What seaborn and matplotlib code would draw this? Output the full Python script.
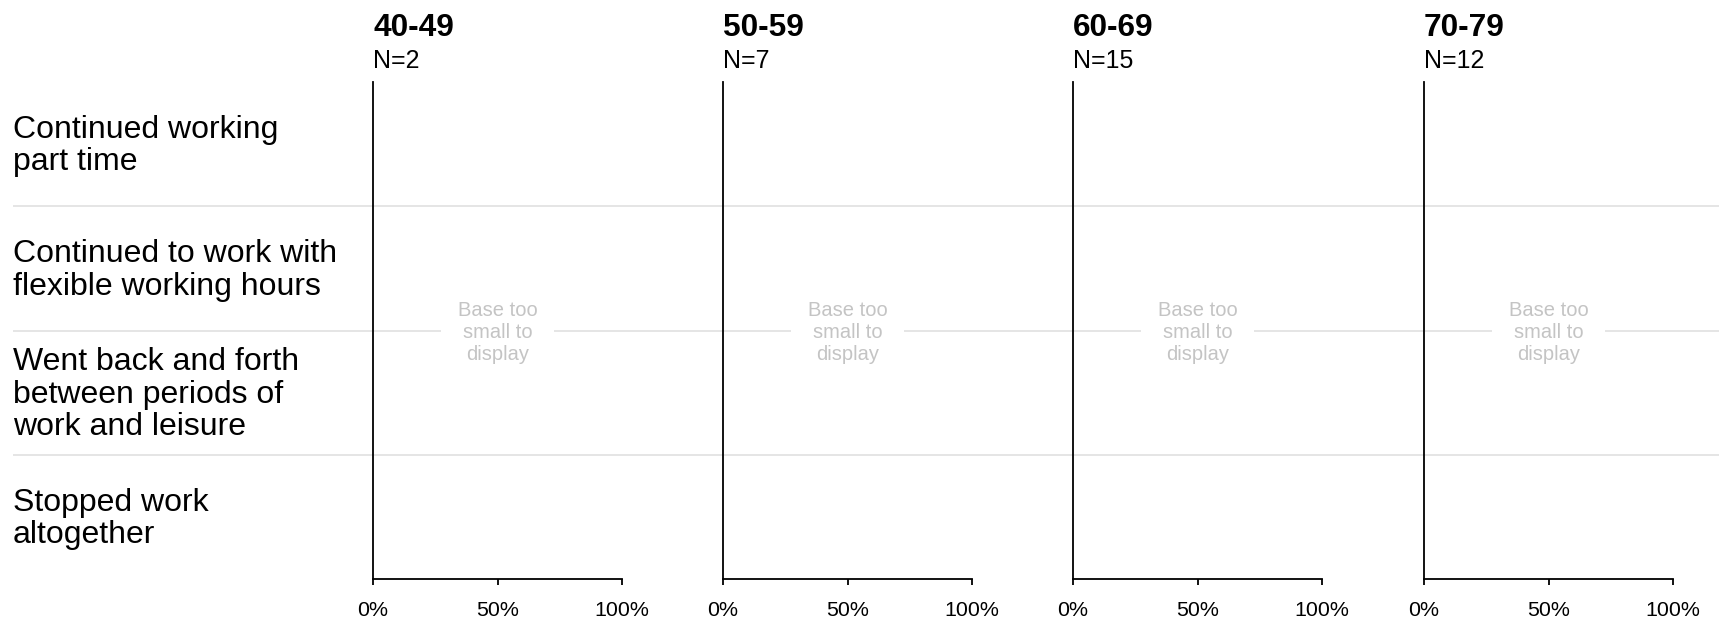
import numpy as np
import pandas as pd
import matplotlib
matplotlib.use("Agg")
import matplotlib.pyplot as plt
import seaborn as sns

# Data
statements = [
    "Continued working\npart time",
    "Continued to work with\nflexible working hours",
    "Went back and forth\nbetween periods of\nwork and leisure",
    "Stopped work\naltogether",
]
age_groups = ["40-49", "50-59", "60-69", "70-79"]
n_bases = [2, 7, 15, 12]
min_base = 30  # panels with a smaller base get no bars
tick_vals = [0, 0.5, 1.0]
tick_labels = ["0%", "50%", "100%"]

sns.set_theme(style="ticks")
plt.rcParams["font.family"] = ["Liberation Sans", "DejaVu Sans"]
plt.rcParams["text.color"] = "black"

W, H = 1719, 622
fig = plt.figure(figsize=(W / 100, H / 100), dpi=100)

# layout in pixels
axis_top, axis_bottom = 82, 579
panel_lefts = [373, 723, 1073, 1424]
panel_w = 249
bottom = 1 - axis_bottom / H
height = (axis_bottom - axis_top) / H

# background with row labels and separators spanning whole width
bg = fig.add_axes([13 / W, bottom, 1 - 13 / W, height])
bg.set_xlim(0, 1)
bg.set_ylim(len(statements) - 0.5, -0.5)
bg.axis("off")
for k in range(1, len(statements)):
    bg.axhline(k - 0.5, color="#e0e0e0", lw=1.2, zorder=0)
for i, s in enumerate(statements):
    bg.annotate(s, xy=(0, i), xytext=(0, -1.5), textcoords="offset points",
                ha="left", va="center", fontsize=23, color="black",
                linespacing=1.1)

for left, grp, n in zip(panel_lefts, age_groups, n_bases):
    ax = fig.add_axes([left / W, bottom, panel_w / W, height])
    ax.set_facecolor("none")
    ax.set_xlim(0, 1)
    ax.set_ylim(len(statements) - 0.5, -0.5)
    ax.set_yticks([])
    ax.set_xticks(tick_vals)
    ax.set_xticklabels(tick_labels)
    ax.tick_params(axis="x", length=4.3, width=1.3, pad=11.5, labelsize=15.4,
                   colors="black")
    sns.despine(ax=ax)
    for sp in ("left", "bottom"):
        ax.spines[sp].set_linewidth(1.3)
        ax.spines[sp].set_color("black")

    if n < min_base:
        ax.annotate("Base too\nsmall to\ndisplay",
                    xy=(0.5, (len(statements) - 1) / 2), xytext=(0, -1.5),
                    textcoords="offset points", ha="center", va="center",
                    fontsize=14.5, color="#c4c4c4", linespacing=1.18,
                    bbox=dict(boxstyle="square,pad=0.85", fc="white", ec="none"))

    fig.text(left / W, 1 - 27.5 / H, grp, ha="left", va="center",
             fontsize=22.8, fontweight="bold", color="black")
    fig.text(left / W, 1 - 61 / H, f"N={n}", ha="left", va="center",
             fontsize=18, color="black")

fig.savefig("out.png", dpi=100)
